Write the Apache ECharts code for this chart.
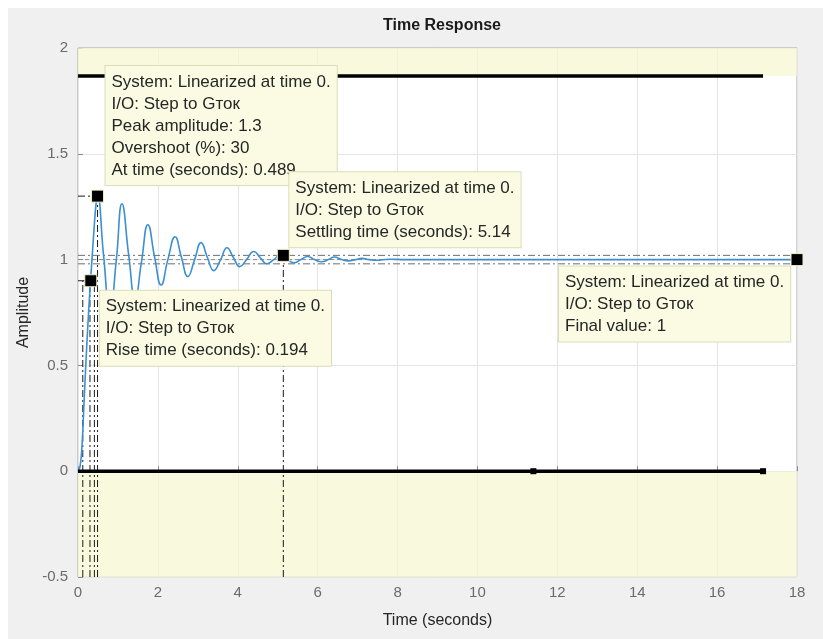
<!DOCTYPE html>
<html><head><meta charset="utf-8">
<script src="https://cdn.jsdelivr.net/npm/echarts/dist/echarts.min.js"></script>
<style>html,body{margin:0;padding:0;background:#fff}#c{width:823px;height:639px}</style>
</head><body><div id="c"></div>
<script>
// ---- data ----
const times = [0,0.05,0.1,0.15,0.2,0.25,0.3,0.35,0.4,0.45,0.489,0.64,0.8,0.96,1.1,1.27,1.43,1.59,1.75,1.92,2.08,2.25,2.43,2.59,2.75,2.92,3.08,3.24,3.4,3.57,3.73,3.89,4.05,4.22,4.4,4.56,4.73,4.9,5.08,5.24,5.4,5.58,5.75,5.92,6.1,6.27,6.42,6.6,6.77,6.95,7.1,7.3,7.45,7.8,8.2,9,10,12,14,16,18];
const amps  = [0,0.02,0.12,0.32,0.52,0.7,0.86,1.0,1.14,1.26,1.30,1.02,0.75,1.0,1.264,1.02,0.81,0.99,1.165,1.01,0.88,1.0,1.108,1.01,0.92,1.0,1.08,1.01,0.948,1.0,1.056,1.01,0.967,1.0,1.038,1.01,0.98,1.0,1.022,1.0,0.985,1.0,1.015,1.0,0.99,1.0,1.012,1.0,0.994,1.0,1.006,1.0,0.997,1.002,1.0,1,1,1,1,1,1];
const xRange = [0, 18], xStep = 2;
const yRange = [-0.5, 2], yStep = 0.5;
const upperBound = { y: 1.868, tEnd: 17.15 };
const lowerBound = { t: [0, 11.4, 17.15], y: [0, 0, 0] };
const peak = [0.489, 1.3];
const rise = [0.32, 0.9];
const settle = [5.14, 1.02];
const finalVal = [18, 1];
const vGuides = [[0.12, 0.9], [0.3, 0.9], [0.41, 0.9], [0.489, 1.3], [5.14, 1.02]]; // [t, top]
const hGuides = [[0.9, 0.32], [1.3, 0.489]]; // [y, tEnd]
const bandLines = [1.02, 0.98];
const tipPeak = ['System: Linearized at time 0.', 'I/O: Step to Gток', 'Peak amplitude: 1.3', 'Overshoot (%): 30', 'At time (seconds): 0.489'];
const tipSettle = ['System: Linearized at time 0.', 'I/O: Step to Gток', 'Settling time (seconds): 5.14'];
const tipRise = ['System: Linearized at time 0.', 'I/O: Step to Gток', 'Rise time (seconds): 0.194'];
const tipFinal = ['System: Linearized at time 0.', 'I/O: Step to Gток', 'Final value: 1'];

const FONT = '"Liberation Sans", Arial, Helvetica, sans-serif';
const chart = echarts.init(document.getElementById('c'), null, { renderer: 'canvas' });
const dashDot = [7, 3, 2, 3];
const series = [];

// yellow constraint regions
series.push({
  type: 'line', z: 4, silent: true, symbol: 'none', data: [[0, 2]], lineStyle: { opacity: 0 },
  markArea: {
    silent: true,
    itemStyle: { color: 'rgba(247,247,210,0.75)' },
    data: [
      [{ coord: [xRange[0], upperBound.y] }, { coord: [xRange[1], yRange[1]] }],
      [{ coord: [xRange[0], yRange[0]] }, { coord: [xRange[1], 0] }]
    ]
  }
});
// vertical guide lines
vGuides.forEach(g => series.push({
  type: 'line', z: 3, silent: true, symbol: 'none',
  data: [[g[0], yRange[0]], [g[0], g[1]]],
  lineStyle: { color: '#1a1a1a', width: 1, type: dashDot }
}));
hGuides.forEach(g => series.push({
  type: 'line', z: 3, silent: true, symbol: 'none',
  data: [[0, g[0]], [g[1], g[0]]],
  lineStyle: { color: '#1a1a1a', width: 1, type: dashDot }
}));
bandLines.forEach(v => series.push({
  type: 'line', z: 3, silent: true, symbol: 'none',
  data: [[xRange[0], v], [xRange[1], v]],
  lineStyle: { color: '#6e6e6e', width: 1, type: dashDot }
}));
series.push({
  type: 'line', z: 3, silent: true, symbol: 'none',
  data: [[xRange[0], finalVal[1]], [xRange[1], finalVal[1]]],
  lineStyle: { color: '#8a8a8a', width: 1, type: [4, 3] }
});
// response
series.push({
  type: 'line', z: 5, silent: true, symbol: 'none', smooth: 0.5,
  data: times.map((t, i) => [t, amps[i]]),
  lineStyle: { color: '#3b8fd2', width: 1.6 }
});
// bound lines
series.push({
  type: 'line', z: 6, silent: true, symbol: 'none',
  data: [[xRange[0], upperBound.y], [upperBound.tEnd, upperBound.y]],
  lineStyle: { color: '#000', width: 3.5 }
});
series.push({
  type: 'line', z: 6, silent: true, symbol: 'rect', showSymbol: true,
  symbolSize: (v, p) => (p.dataIndex === 0 ? 0 : 6),
  data: lowerBound.t.map((t, i) => [t, lowerBound.y[i]]),
  itemStyle: { color: '#000' },
  lineStyle: { color: '#000', width: 3.5 }
});
// characteristic markers
series.push({
  type: 'scatter', z: 8, silent: true, symbol: 'rect', symbolSize: 12,
  data: [peak, rise, settle, finalVal],
  itemStyle: { color: '#000', opacity: 1, borderColor: '#efefc8', borderWidth: 1 }
});

chart.setOption({
  animation: false,
  backgroundColor: '#f0f0f0',
  title: {
    text: 'Time Response', left: 437, top: 13, textAlign: 'center',
    textStyle: { fontFamily: FONT, fontSize: 16, fontWeight: 'bold', color: '#1a1a1a' }
  },
  grid: { left: 78, right: 26, top: 48, bottom: 62, show: true, backgroundColor: '#fff', borderColor: '#a8a8a8', borderWidth: 1 },
  xAxis: {
    type: 'value', min: xRange[0], max: xRange[1], interval: xStep,
    axisLine: { show: false },
    axisTick: { show: true, inside: true, length: 5, lineStyle: { color: '#8a8a8a' } },
    axisLabel: { color: '#6b6b6b', fontSize: 15, fontFamily: FONT, margin: 8 },
    splitLine: { show: true, lineStyle: { color: '#e4e4e4' } },
    name: 'Time (seconds)', nameLocation: 'middle', nameGap: 36,
    nameTextStyle: { color: '#262626', fontSize: 16, fontFamily: FONT }
  },
  yAxis: {
    type: 'value', min: yRange[0], max: yRange[1], interval: yStep,
    axisLine: { show: false },
    axisTick: { show: true, inside: true, length: 5, lineStyle: { color: '#8a8a8a' } },
    axisLabel: { color: '#6b6b6b', fontSize: 15, fontFamily: FONT, margin: 10 },
    splitLine: { show: true, lineStyle: { color: '#e4e4e4' } },
    name: 'Amplitude', nameLocation: 'middle', nameGap: 43,
    nameTextStyle: { color: '#262626', fontSize: 16, fontFamily: FONT }
  },
  series
});

function tip(lines, x, y, z) {
  return {
    type: 'text', x: x, y: y, z: z, silent: true,
    style: {
      text: lines.join('\n'), font: '17px ' + FONT, fill: '#262626', lineHeight: 22,
      backgroundColor: '#fbfbe4', borderColor: '#dcdcb8', borderWidth: 1, padding: [5, 6, 4, 6]
    }
  };
}
const px = p => chart.convertToPixel({ gridIndex: 0 }, p);
const pP = px(peak), pS = px(settle), pR = px(rise), pF = px(finalVal);
chart.setOption({
  graphic: [
    { type: 'rect', shape: { x: 0, y: 0, width: 823, height: 8 }, style: { fill: '#fff' }, silent: true },
    { type: 'rect', shape: { x: 0, y: 0, width: 8, height: 639 }, style: { fill: '#fff' }, silent: true },
    tip(tipPeak, pP[0] + 8, pP[1] - 130, 100),
    tip(tipSettle, pS[0] + 6, pS[1] - 83, 101),
    tip(tipRise, pR[0] + 9, pR[1] + 10, 100),
    tip(tipFinal, pF[0] - 238, pF[1] + 7, 100)
  ]
});
</script></body></html>
